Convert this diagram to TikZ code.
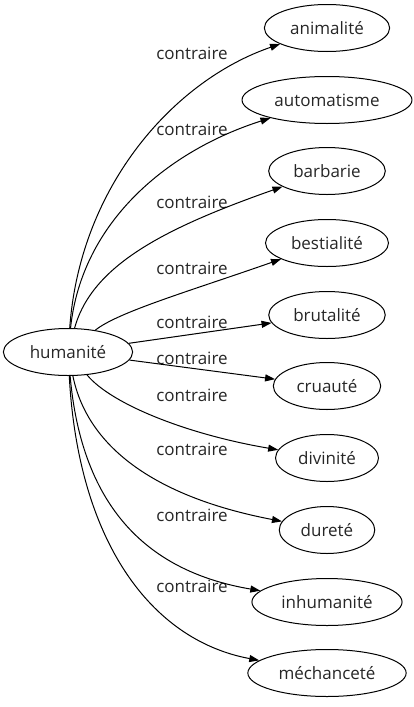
\documentclass[tikz,border=0pt]{standalone}
\usepackage{fontspec}
\setmainfont{Open Sans}
\usetikzlibrary{shapes.geometric, arrows.meta}
\tikzset{
    base/.style={font=\fontsize{17}{20}\selectfont, text=black!85},
    word/.style={base, draw, ellipse, line width=1pt, inner xsep=7.5pt, inner ysep=2pt, minimum height=47pt},
    rel/.style={base, inner sep=1pt},
    arrow/.style={-{Triangle[length=10pt, width=7pt]}, line width=1pt}
}
\begin{document}
\begin{tikzpicture}[x=1pt, y=-1pt]
    \useasboundingbox (0,0) rectangle (413,707);

    \node (hum) [word] at (68,352) {humanité};
    \node (ani) [word] at (327,28) {animalité};
    \node (aut) [word] at (327,100) {automatisme};
    \node (bar) [word] at (327,171) {barbarie};
    \node (bes) [word] at (327,243) {bestialité};
    \node (bru) [word] at (327,315) {brutalité};
    \node (cru) [word] at (327,386) {cruauté};
    \node (div) [word] at (327,458) {divinité};
    \node (dur) [word] at (327,530) {dureté};
    \node (inh) [word] at (327,602) {inhumanité};
    \node (mec) [word] at (327,673) {méchanceté};

    \node (lani) [rel] at (192,53) {contraire};
    \node (laut) [rel] at (192,129) {contraire};
    \node (lbar) [rel] at (192,202) {contraire};
    \node (lbes) [rel] at (192,268) {contraire};
    \node (lbru) [rel] at (192,322) {contraire};
    \node (lcru) [rel] at (192,358) {contraire};
    \node (ldiv) [rel] at (192,395) {contraire};
    \node (ldur) [rel] at (192,449) {contraire};
    \node (linh) [rel] at (192,515) {contraire};
    \node (lmec) [rel] at (192,586) {contraire};

    \draw [arrow] (hum) .. controls (80,185) and (175,80) .. (ani);
    \draw [arrow] (hum) .. controls (82,220) and (170,150) .. (aut);
    \draw [arrow] (hum) .. controls (92,265) and (165,228) .. (bar);
    \draw [arrow] (hum) .. controls (118,312) and (190,291) .. (bes);
    \draw [arrow] (hum) -- (bru);
    \draw [arrow] (hum) -- (cru);
    \draw [arrow] (hum) .. controls (112,405) and (190,435) .. (div);
    \draw [arrow] (hum) .. controls (88,450) and (160,498) .. (dur);
    \draw [arrow] (hum) .. controls (82,510) and (150,572) .. (inh);
    \draw [arrow] (hum) .. controls (78,540) and (150,640) .. (mec);
\end{tikzpicture}
\end{document}
